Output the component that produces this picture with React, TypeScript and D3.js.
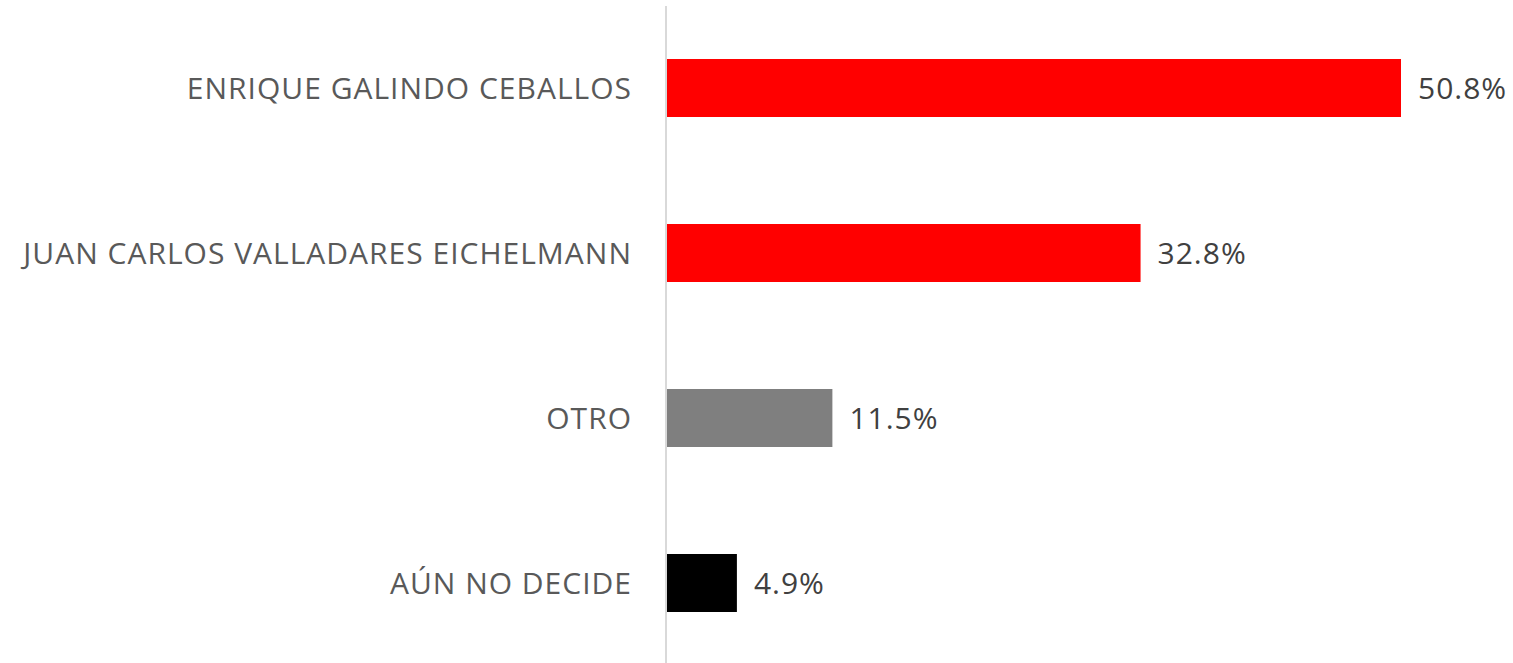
import React, { useEffect } from "react";
import * as d3 from "d3";

const categories = [
  "ENRIQUE GALINDO CEBALLOS",
  "JUAN CARLOS VALLADARES EICHELMANN",
  "OTRO",
  "AÚN NO DECIDE",
];
const values = [50.8, 32.8, 11.5, 4.9];
const colors = ["#FF0000", "#FF0000", "#7F7F7F", "#000000"];
const valueLabels = ["50.8%", "32.8%", "11.5%", "4.9%"];

const W = 1513;
const H = 663;
const FONT = "'Open Sans', 'DejaVu Sans', sans-serif";

export default function App() {
  useEffect(() => {
    document.body.style.margin = "0";
  }, []);
  const x0 = 666;
  const x = d3.scaleLinear().domain([0, 50.8]).range([x0, 1401]);
  const y = d3.scaleBand<string>().domain(categories).range([5.5, 665.5]).padding(0);
  const barH = 58;
  return (
    <svg width={W} height={H} style={{ display: "block", background: "#fff" }}>
      {categories.map((c, i) => {
        const cy = (y(c) as number) + y.bandwidth() / 2;
        return (
          <g key={c}>
            <rect
              x={x(0)}
              y={cy - barH / 2}
              width={x(values[i]) - x(0)}
              height={barH}
              fill={colors[i]}
            />
            <text
              x={632}
              y={cy - 1}
              textAnchor="end"
              dominantBaseline="central"
              fontFamily={FONT}
              fontSize={30}
              letterSpacing={1}
              fill="#595959"
            >
              {c}
            </text>
            <text
              x={x(values[i]) + 17}
              y={cy - 1}
              dominantBaseline="central"
              fontFamily={FONT}
              fontSize={30}
              letterSpacing={1}
              fill="#404040"
            >
              {valueLabels[i]}
            </text>
          </g>
        );
      })}
      <line x1={x0} x2={x0} y1={6} y2={663} stroke="#D9D9D9" strokeWidth={2} />
    </svg>
  );
}
